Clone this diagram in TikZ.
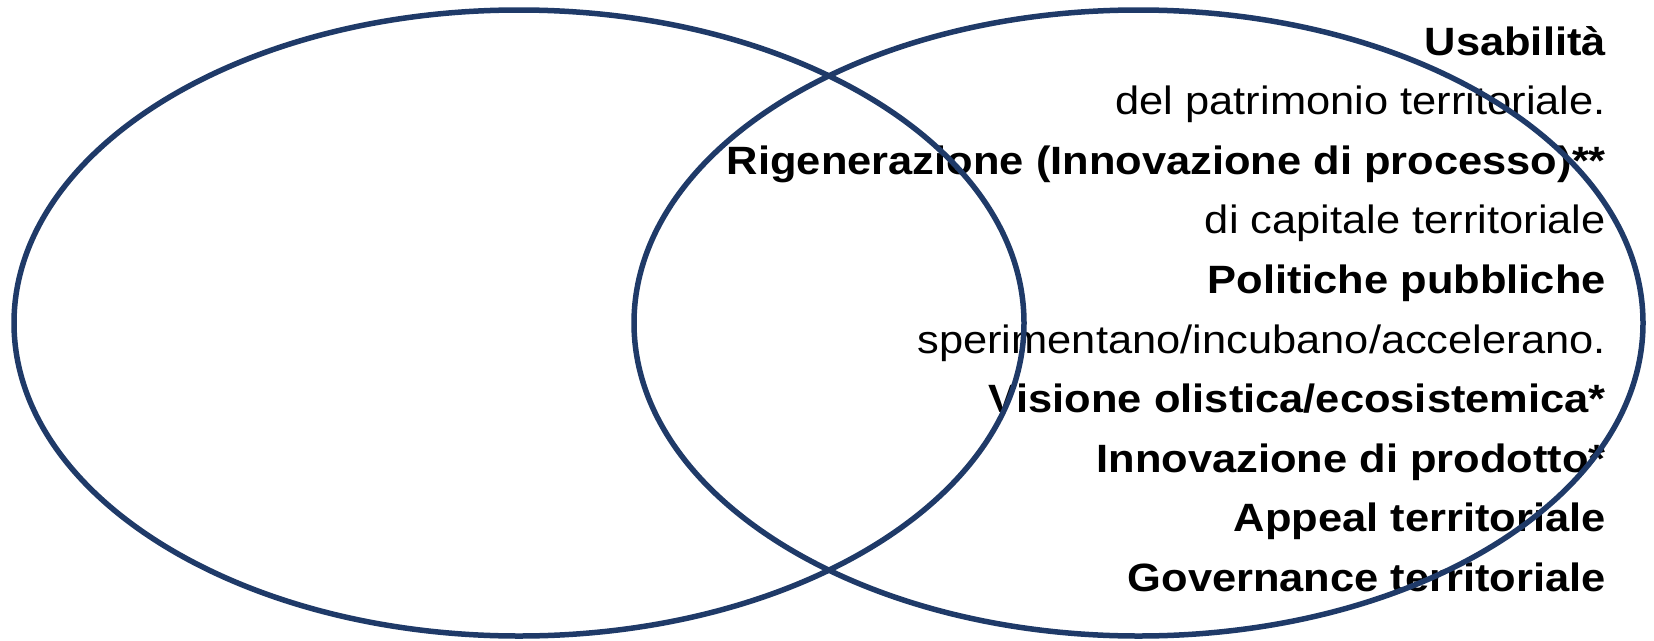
\documentclass[tikz,border=0pt]{standalone}
\usepackage{fontspec}
\setmainfont{Liberation Sans}[FakeStretch=1.10]
\definecolor{ringblue}{HTML}{1F3A68}
\begin{document}
\begin{tikzpicture}[x=1pt,y=-1pt,
  ring/.style={draw=ringblue,line width=5.5pt},
  lbl/.style={anchor=base east,inner sep=0pt,font=\fontsize{39.5}{46}\selectfont},
  blbl/.style={anchor=base east,inner sep=0pt,font=\fontsize{39.5}{46}\selectfont\bfseries}]
\useasboundingbox (0,0) rectangle (1654,640);
\node[blbl] (t1) at (1606,55.0) {Usabilità};
\node[lbl]  (t2) at (1606,114.6) {del patrimonio territoriale.};
\node[blbl] (t3) at (1606,174.2) {Rigenerazione (Innovazione di processo)**};
\node[lbl]  (t4) at (1606,233.8) {di capitale territoriale};
\node[blbl] (t5) at (1606,293.4) {Politiche pubbliche};
\node[lbl]  (t6) at (1606,353.0) {sperimentano/incubano/accelerano.};
\node[blbl] (t7) at (1606,412.6) {Visione olistica/ecosistemica*};
\node[blbl] (t8) at (1606,472.2) {Innovazione di prodotto*};
\node[blbl] (t9) at (1606,531.8) {Appeal territoriale};
\node[blbl] (t10) at (1606,591.4) {Governance territoriale};
\draw[ring] (519,323) ellipse [x radius=505pt, y radius=313pt];
\draw[ring] (1138.5,323) ellipse [x radius=504.5pt, y radius=313pt];
\end{tikzpicture}
\end{document}
